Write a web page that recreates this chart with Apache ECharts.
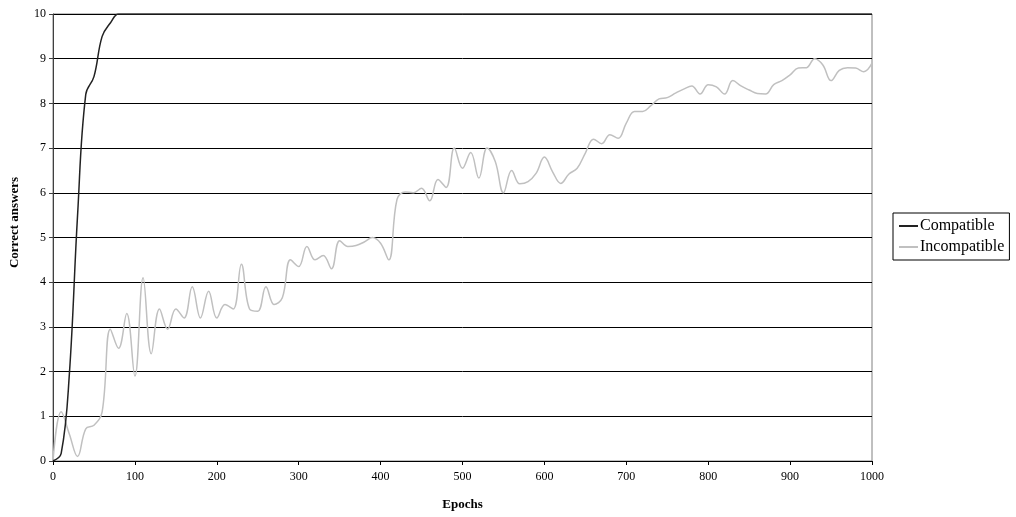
<!DOCTYPE html>
<html>
<head>
<meta charset="utf-8">
<script src="https://cdn.jsdelivr.net/npm/echarts@6/dist/echarts.min.js"></script>
<style>
  html, body { margin: 0; padding: 0; background: #fff; }
</style>
</head>
<body>
<div id="answersChart" style="width: 1016px; height: 517px"></div>
<script>
  // sample points every 10 epochs
  var epochs = [
    0, 10, 20, 30, 40, 50, 60, 70, 80, 90,
    100, 110, 120, 130, 140, 150, 160, 170, 180, 190,
    200, 210, 220, 230, 240, 250, 260, 270, 280, 290,
    300, 310, 320, 330, 340, 350, 360, 370, 380, 390,
    400, 410, 420, 430, 440, 450, 460, 470, 480, 490,
    500, 510, 520, 530, 540, 550, 560, 570, 580, 590,
    600, 610, 620, 630, 640, 650, 660, 670, 680, 690,
    700, 710, 720, 730, 740, 750, 760, 770, 780, 790,
    800, 810, 820, 830, 840, 850, 860, 870, 880, 890,
    900, 910, 920, 930, 940, 950, 960, 970, 980, 990,
    1000
  ];

  var compatible = [
    0, 0.17, 1.95, 5.5, 8.2, 8.6, 9.5, 9.8, 10, 10,
    10, 10, 10, 10, 10, 10, 10, 10, 10, 10,
    10, 10, 10, 10, 10, 10, 10, 10, 10, 10,
    10, 10, 10, 10, 10, 10, 10, 10, 10, 10,
    10, 10, 10, 10, 10, 10, 10, 10, 10, 10,
    10, 10, 10, 10, 10, 10, 10, 10, 10, 10,
    10, 10, 10, 10, 10, 10, 10, 10, 10, 10,
    10, 10, 10, 10, 10, 10, 10, 10, 10, 10,
    10, 10, 10, 10, 10, 10, 10, 10, 10, 10,
    10, 10, 10, 10, 10, 10, 10, 10, 10, 10,
    10
  ];

  var incompatible = [
    0, 1.1, 0.6, 0.1, 0.72, 0.8, 1.1, 2.95, 2.52, 3.3,
    1.9, 4.1, 2.4, 3.4, 2.95, 3.4, 3.2, 3.9, 3.2, 3.8,
    3.2, 3.5, 3.4, 4.4, 3.4, 3.35, 3.9, 3.5, 3.65, 4.5,
    4.35, 4.8, 4.5, 4.6, 4.3, 4.93, 4.8, 4.82, 4.9, 5.0,
    4.87, 4.5, 5.85, 6.02, 6.0, 6.1, 5.82, 6.3, 6.12, 7.0,
    6.55, 6.9, 6.33, 7.0, 6.7, 6.0, 6.5, 6.2, 6.25, 6.44,
    6.8, 6.47, 6.21, 6.42, 6.55, 6.89, 7.2, 7.1, 7.3, 7.22,
    7.56, 7.82, 7.82, 7.95, 8.1, 8.13, 8.23, 8.32, 8.39, 8.21,
    8.42, 8.37, 8.21, 8.51, 8.39, 8.3, 8.22, 8.21, 8.42, 8.51,
    8.64, 8.79, 8.8, 9.0, 8.86, 8.51, 8.74, 8.8, 8.79, 8.71,
    8.9
  ];

  var seriesNames = ['Compatible', 'Incompatible'];

  function pairs(values) {
    return epochs.map(function (e, i) {
      return [e, values[i]];
    });
  }

  var font = 'Liberation Serif';

  var option = {
    backgroundColor: '#fff',
    animation: false,
    grid: {
      left: 53,
      right: 144,
      top: 14,
      bottom: 56,
      show: true,
      borderColor: '#808080',
      borderWidth: 1
    },
    legend: {
      orient: 'vertical',
      left: 893,
      top: 213,
      padding: [5, 5, 5, 6],
      itemGap: 5,
      itemWidth: 19,
      itemHeight: 2,
      icon: 'rect',
      borderColor: '#000',
      borderWidth: 1,
      textStyle: { fontFamily: font, fontSize: 16, color: '#000', padding: [0, 0, 0, -3] },
      data: seriesNames
    },
    xAxis: {
      type: 'value',
      min: 0,
      max: 1000,
      interval: 100,
      name: 'Epochs',
      nameLocation: 'middle',
      nameGap: 37,
      nameTextStyle: { fontFamily: font, fontSize: 13, fontWeight: 'bold', color: '#000' },
      axisLine: { show: true, lineStyle: { color: '#000', width: 1 } },
      axisTick: { show: true, inside: false, length: 4, lineStyle: { color: '#000' } },
      axisLabel: {
        fontFamily: font, fontSize: 12, color: '#000', margin: 10,
        formatter: function (v) { return String(v); }
      },
      splitLine: { show: false }
    },
    yAxis: {
      type: 'value',
      min: 0,
      max: 10,
      interval: 1,
      name: 'Correct answers',
      nameLocation: 'middle',
      nameGap: 32,
      nameTextStyle: {
        fontFamily: font, fontSize: 13, fontWeight: 'bold', color: '#000',
        padding: [0, 0, 0, 30]
      },
      axisLine: { show: true, lineStyle: { color: '#404040', width: 1 } },
      axisTick: { show: true, inside: false, length: 4, lineStyle: { color: '#404040' } },
      axisLabel: { fontFamily: font, fontSize: 12, color: '#000', margin: 7 },
      splitLine: { show: true, lineStyle: { color: '#000', width: 1 } }
    },
    series: [
      {
        name: seriesNames[0],
        type: 'line',
        smooth: 0.4,
        showSymbol: false,
        symbol: 'none',
        lineStyle: { color: '#222', width: 1.5 },
        itemStyle: { color: '#222' },
        z: 3,
        data: pairs(compatible)
      },
      {
        name: seriesNames[1],
        type: 'line',
        smooth: 0.4,
        showSymbol: false,
        symbol: 'none',
        lineStyle: { color: '#c0c0c0', width: 1.5 },
        itemStyle: { color: '#c0c0c0' },
        z: 2,
        data: pairs(incompatible)
      }
    ]
  };

  var myChart = echarts.init(document.getElementById('answersChart'));
  myChart.setOption(option);
</script>
</body>
</html>
